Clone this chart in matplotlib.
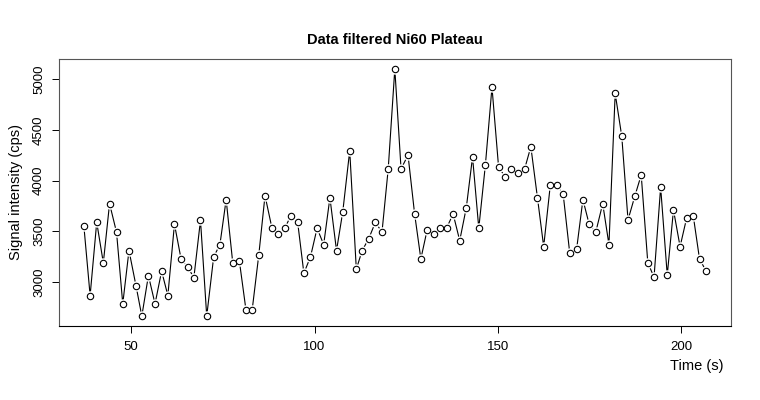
import matplotlib
matplotlib.use('Agg')
import matplotlib.pyplot as plt

plt.rcParams['font.family'] = ['Liberation Sans', 'DejaVu Sans']

# time (s) and filtered signal (cps)
time_s = [37.1, 38.8, 40.6, 42.4, 44.1, 46.0, 47.7, 49.4, 51.3, 52.9,
          54.7, 56.5, 58.3, 60.0, 61.8, 63.6, 65.4, 67.1, 68.9, 70.6,
          72.5, 74.2, 75.9, 77.7, 79.5, 81.3, 83.0, 84.8, 86.5, 88.4,
          90.1, 91.9, 93.5, 95.4, 97.1, 98.9, 100.7, 102.5, 104.2, 106.0,
          107.7, 109.6, 111.4, 113.0, 114.8, 116.6, 118.4, 120.1, 121.9, 123.6,
          125.5, 127.3, 129.0, 130.7, 132.5, 134.3, 136.0, 137.8, 139.6, 141.4,
          143.1, 144.8, 146.6, 148.4, 150.2, 152.0, 153.7, 155.5, 157.3, 159.0,
          160.8, 162.5, 164.3, 166.1, 167.8, 169.6, 171.5, 173.2, 174.9, 176.7,
          178.6, 180.3, 182.0, 183.8, 185.5, 187.4, 189.1, 190.9, 192.6, 194.4,
          196.2, 197.9, 199.7, 201.5, 203.3, 205.0, 206.8]
signal = [3551, 2868, 3590, 3190, 3773, 3492, 2786, 3311, 2966, 2665,
          3065, 2786, 3108, 2868, 3571, 3229, 3148, 3045, 3610, 2665,
          3249, 3370, 3813, 3190, 3209, 2727, 2727, 3268, 3852, 3531,
          3472, 3531, 3652, 3590, 3088, 3249, 3531, 3370, 3832, 3311,
          3692, 4295, 3128, 3311, 3429, 3590, 3492, 4115, 5101, 4115,
          4252, 3672, 3229, 3511, 3472, 3531, 3531, 3672, 3409, 3734,
          4233, 3531, 4154, 4921, 4134, 4036, 4115, 4075, 4115, 4334,
          3832, 3350, 3954, 3954, 3872, 3288, 3330, 3813, 3571, 3492,
          3773, 3370, 4859, 4436, 3613, 3852, 4056, 3190, 3049, 3935,
          3069, 3711, 3350, 3633, 3652, 3229, 3108]

yticks = [3000, 3500, 4000, 4500, 5000]
xticks = [50, 100, 150, 200]

fig = plt.figure(figsize=(7.6, 4.0), dpi=100)
ax = fig.add_axes([59/760, 74/400, 672/760, 267/400])

ax.plot(time_s, signal, color='black', lw=0.8, zorder=1)
# white discs make the little gaps R leaves round each point (type="b")
ax.plot(time_s, signal, ls='none', marker='o', ms=7.5, mfc='white',
        mec='none', zorder=2)
ax.plot(time_s, signal, ls='none', marker='o', ms=4.6, mfc='white',
        mec='black', mew=0.8, zorder=3)

ax.margins(x=0.04, y=0.04)
ax.set_xticks(xticks)
ax.set_yticks(yticks)
ax.tick_params(direction='out', length=5, width=0.7, labelsize=9.5)
ax.tick_params(axis='x', pad=6)
ax.tick_params(axis='y', pad=5)
for lab in ax.get_yticklabels():
    lab.set_rotation(90)
    lab.set_va('center')
for sp in ax.spines.values():
    sp.set_linewidth(0.8)
    sp.set_color('#555555')
ax.spines['bottom'].set_color('black')

fig.text(395/760, 1 - 40/400, 'Data filtered Ni60 Plateau', ha='center',
         va='center', fontsize=10.5, fontweight='bold')
fig.text(723/760, 1 - 366/400, 'Time (s)', ha='right', va='center',
         fontsize=10.5)
fig.text(16/760, 1 - 192/400, 'Signal intensity (cps)', ha='center',
         va='center', rotation=90, fontsize=10.5)

fig.savefig('out.png', dpi=100)
